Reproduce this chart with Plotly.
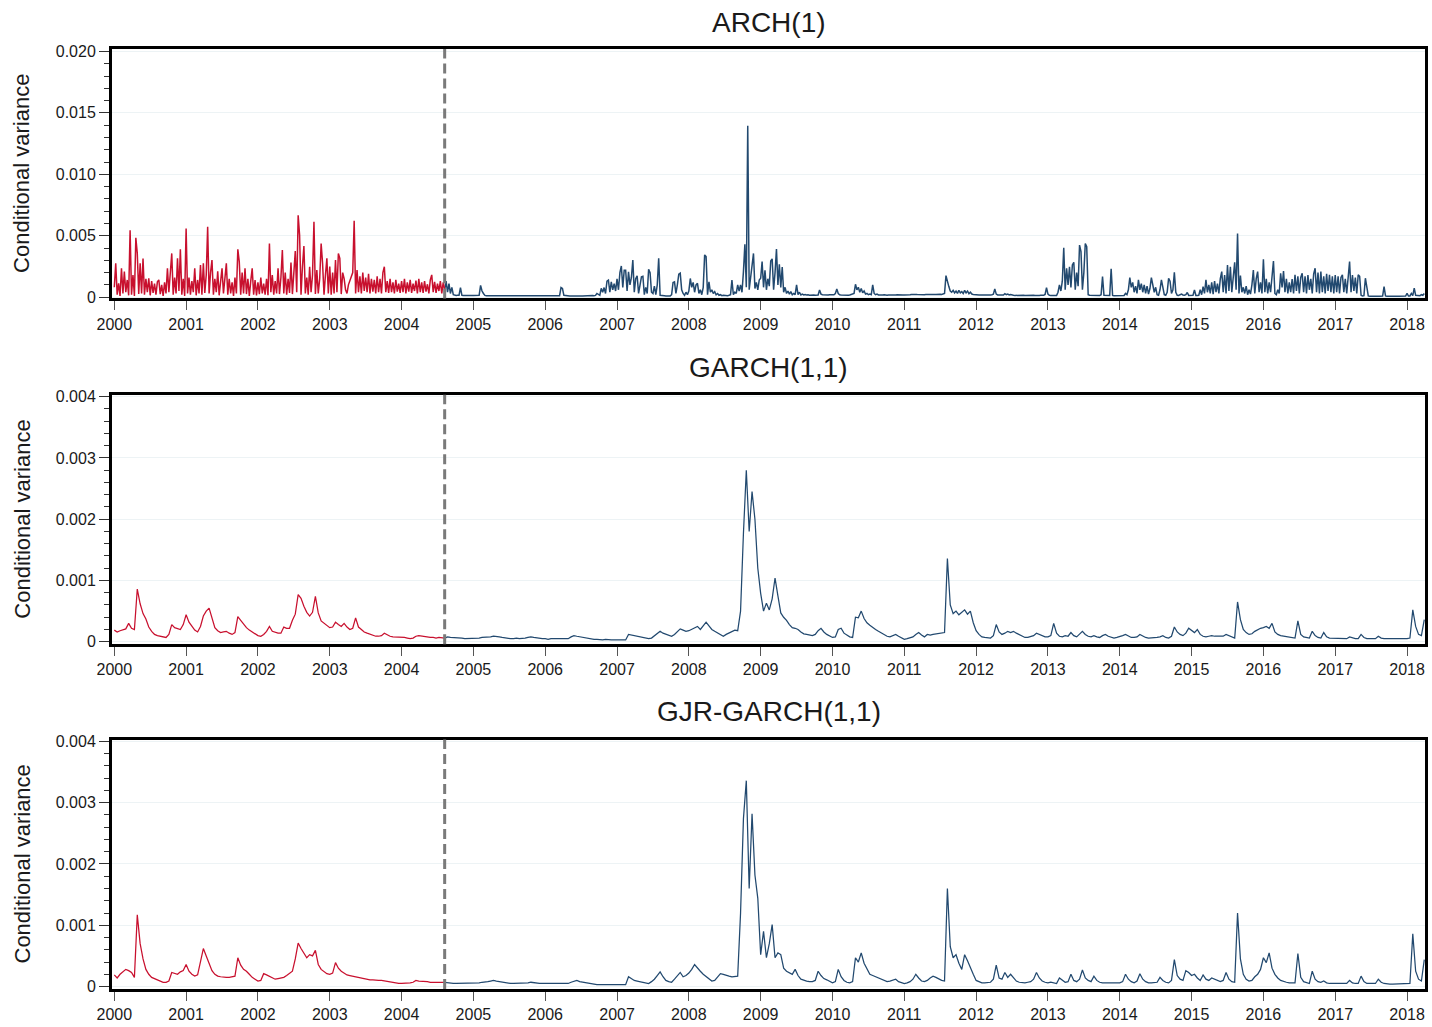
import numpy as np
import plotly.graph_objects as go

# ---------------- data (values in units of 1e-5) ----------------
UNIT = 1e-5
START_YEAR = 2000.0
SPLIT_YEAR = 2004.6
YEAR_TICKS = list(range(2000, 2019))
YEAR_LABELS = [str(y) for y in YEAR_TICKS]
TITLES = ["ARCH(1)", "GARCH(1,1)", "GJR-GARCH(1,1)"]
Y_LABEL = "Conditional variance"

# ARCH(1): one row per year, sampled every 0.02 year
ARCH_STEP = 0.02
arch_rows = [
    [80,275,20,113,10,235,30,208,40,140, 15,545,20,180,10,483,356,25,275,30, 315,20,150,40,154,15,130,35,110,20, 125,140,25,100,10,120,30,235,40,235, 356,20,160,30,316,50,389,20,150,10],
    [559,30,160,20,130,40,235,15,140,30, 262,20,275,35,180,572,30,200,302,20, 150,40,210,15,140,235,30,180,275,20, 150,30,120,10,160,30,389,289,20,200, 30,235,25,150,10,130,235,20,140,15],
    [120,25,160,30,110,20,150,15,437,40, 180,20,130,30,235,25,160,383,30,200, 20,150,35,281,25,200,375,40,667,505, 20,250,416,30,160,20,248,40,180,613, 25,221,30,150,437,275,20,180,316,30],
    [250,20,200,30,302,40,356,316,25,200, 150,60,30,100,130,160,200,621,30,221, 40,170,30,200,50,160,40,190,30,150, 45,140,30,170,40,150,30,200,248,40, 130,35,150,40,120,30,140,45,110,35],
    [130,40,150,30,120,45,140,35,110,50, 135,30,150,40,120,35,130,45,105,30, 140,181,40,125,35,110,50,130,30,120, 60,130,40,110,30,80,20,15,14,15, 16,78,15,14,15,16,15,14,15,14],
    [14,13,12,14,15,95,50,30,14,12, 12,11,12,13,12,11,10,12,11,10, 10,11,10,9,10,11,10,9,10,9, 9,10,9,8,9,10,9,8,9,10, 9,8,9,8,9,8,9,9,8,9],
    [9,8,9,8,9,10,9,8,9,10, 12,78,70,15,12,10,10,9,10,9, 10,9,10,11,10,9,10,11,12,10, 11,12,11,13,12,14,30,20,15,72, 40,78,30,131,139,40,125,60,110,50],
    [150,60,200,254,80,219,219,50,206,100, 160,302,40,150,174,30,120,166,170,20, 80,30,227,200,40,30,90,20,100,316, 15,12,10,12,10,11,12,10,20,120, 125,30,100,187,195,60,30,15,40,20],
    [50,152,80,120,40,100,112,30,60,20, 80,344,330,20,125,40,60,30,45,20, 30,15,20,12,15,12,14,12,15,20, 139,20,40,30,99,50,100,40,208,430, 80,1396,60,150,286,356,70,120,60,140],
    [154,289,80,219,60,150,90,294,312,60, 200,392,100,267,80,246,40,80,30,50, 25,45,20,30,20,100,20,40,18,25, 18,22,17,20,16,18,20,17,16,18, 17,59,25,20,18,17,19,18,20,18],
    [18,20,30,67,30,20,18,17,16,18, 17,16,18,20,25,30,105,60,80,40, 70,35,50,25,30,20,25,20,100,30, 20,25,18,17,16,18,20,17,16,18, 17,16,18,17,18,20,18,17,16,18],
    [18,20,19,22,20,21,23,20,22,21, 20,22,24,21,20,22,23,21,20,22, 24,22,21,23,22,24,22,25,30,175, 120,86,50,40,55,35,50,30,55,35, 45,30,55,35,50,28,40,25,22,20],
    [20,18,17,18,16,17,18,17,16,17, 18,20,25,67,25,18,17,16,18,17, 28,20,25,18,22,16,15,14,15,16, 14,13,15,16,14,15,13,14,16,20, 15,14,13,15,14,16,14,15,22,78],
    [25,15,14,13,15,14,13,40,100,50, 130,402,60,235,100,248,80,262,283,60, 200,90,424,370,60,200,437,410,20,15, 14,13,12,14,13,12,13,20,167,15, 13,12,14,13,230,14,12,13,12,14],
    [12,13,15,14,30,20,60,159,80,120, 40,90,30,140,60,110,40,100,30,90, 25,70,159,110,40,80,20,15,60,140, 90,20,15,40,154,130,30,60,202,40, 15,14,20,25,18,15,20,38,14,15],
    [14,15,59,14,13,15,60,20,86,30, 140,40,100,30,120,25,130,40,110,30, 150,208,40,180,30,262,50,248,40,150, 283,60,518,30,175,40,80,30,90,20, 60,25,100,221,30,150,208,40,120,30],
    [308,40,150,30,120,40,180,294,30,20, 60,30,194,80,213,40,150,30,120,40, 148,30,181,50,170,30,160,194,40,170, 30,180,60,150,30,190,235,40,200,30, 208,40,170,30,190,50,181,40,170,30],
    [180,40,170,30,160,181,40,150,30,170, 289,40,180,50,160,30,181,170,15,10, 12,154,60,10,8,9,8,7,8,9, 8,7,8,9,86,10,8,7,8,9, 8,7,8,7,8,9,8,7,8,9],
    [30,9,10,30,12,73,15,12,10,12,20,15,30],
]

# GARCH(1,1): one row per year, sampled every 0.04 year
GARCH_STEP = 0.04
garch_rows = [
    [19,16,18,20,21,30,22,20,86,62, 46,37,24,17,12,10,9,7,7,12, 28,23,21,20,28],
    [44,32,25,19,16,25,42,50,55,38, 23,18,15,16,17,14,12,15,41,35, 29,23,19,16,12],
    [10,9,12,17,25,17,15,14,14,24, 22,22,35,45,77,71,58,48,42,48, 74,47,34,30,26],
    [23,24,32,28,25,30,24,20,22,39, 24,20,16,14,12,10,9,9,10,14, 11,9,8,8,8],
    [8,7,6,5,6,9,10,9,8,8, 7,7,6,7,6,6,8,7,7,6, 6,6,5,5,6],
    [5,6,6,7,7,8,8,9,9,8, 7,6,6,5,5,6,5,5,6,7, 8,7,6,5,5],
    [5,4,5,5,4,5,5,4,5,8, 10,9,8,7,6,5,4,4,4,3, 3,4,3,3,3],
    [3,3,3,3,12,11,9,8,7,6, 5,5,6,10,14,17,14,12,10,9, 12,16,21,19,17],
    [18,20,22,25,20,26,32,26,20,17, 14,11,9,12,14,16,19,18,50,177, 280,180,245,200,120],
    [79,50,63,52,70,104,75,47,40,35, 28,23,22,20,16,13,12,11,10,12, 18,22,16,12,9],
    [7,8,20,22,14,11,8,7,40,39, 50,38,31,27,23,20,17,14,11,9, 8,10,12,9,6],
    [4,5,6,8,12,15,11,8,12,11, 12,13,14,14,15,136,60,46,50,44, 48,52,45,50,31],
    [18,12,8,7,7,6,10,28,16,12, 14,17,15,17,14,12,9,7,7,8, 10,14,12,9,8],
    [8,10,30,14,9,8,10,9,15,10, 8,12,17,12,9,8,10,8,7,10, 12,9,7,6,7],
    [8,10,12,9,7,7,8,12,9,7, 6,6,6,7,8,10,7,6,9,24, 16,12,10,14,22],
    [18,15,20,12,9,8,9,10,9,9, 8,9,12,10,7,6,65,36,20,15, 12,13,17,20,22],
    [23,25,22,30,16,12,10,9,8,7, 7,6,34,12,8,7,6,17,10,7, 6,15,8,6,6],
    [6,5,5,5,5,8,6,5,5,12, 7,5,5,5,5,9,6,5,5,5, 4,4,5,4,4],
    [5,6,52,25,12,10,36],
]

# GJR-GARCH(1,1): one row per year, sampled every 0.04 year
GJR_STEP = 0.04
gjr_rows = [
    [19,14,20,24,28,26,23,15,117,70, 45,28,20,15,13,12,9,7,7,9, 23,21,20,24,26],
    [36,25,20,17,19,42,62,50,38,26, 20,17,16,15,15,15,16,17,47,35, 28,25,20,15,12],
    [9,10,21,19,17,14,12,13,14,15, 18,21,25,45,71,62,55,47,52,50, 59,36,28,24,21],
    [20,22,39,30,25,22,19,18,17,16, 15,14,12,12,11,11,10,10,10,9, 8,8,7,6,5],
    [5,5,5,6,7,10,9,9,9,8, 7,7,6,7,7,7,6,6,5,5, 5,5,5,5,5],
    [5,5,6,7,7,8,9,10,9,8, 7,6,5,5,5,5,5,5,6,6, 7,6,5,5,5],
    [5,5,4,4,4,4,4,5,5,7, 9,10,8,7,6,5,4,4,3,3, 3,3,3,3,3],
    [3,3,3,3,16,13,10,9,8,6, 5,5,8,12,18,24,16,10,8,7, 12,18,23,16,18],
    [22,28,36,30,25,20,16,12,9,10, 15,21,20,18,17,16,17,17,120,274, 336,160,282,182,144],
    [52,90,47,70,101,47,55,52,30,25, 22,20,28,18,12,10,9,8,8,10, 25,18,13,11,8],
    [6,8,28,16,10,7,6,8,47,40, 55,38,28,20,18,16,14,11,9,8, 9,10,12,8,6],
    [5,6,8,12,20,14,9,8,10,14, 17,15,12,10,9,160,65,47,52,38, 28,52,42,30,20],
    [10,8,6,6,6,7,12,35,14,12, 23,15,20,14,9,7,6,6,7,8, 12,23,14,9,7],
    [6,7,6,5,14,10,7,8,20,10, 8,12,27,14,10,8,17,10,7,6, 6,6,6,7,6],
    [6,8,20,12,8,6,9,21,12,8, 6,6,6,7,15,10,7,6,10,44, 18,12,10,26,23],
    [18,20,14,10,19,12,10,14,12,9, 8,10,23,12,8,7,120,45,20,12, 9,10,16,20,28],
    [47,39,55,30,20,14,10,8,7,6, 6,6,54,15,8,6,5,25,12,8, 7,9,6,5,5],
    [5,5,4,4,5,10,6,5,5,17, 8,5,5,5,5,12,7,5,4,4, 4,4,4,4,4],
    [4,5,86,25,12,9,44],
]

# y-axis tick labels per panel
ARCH_YTICKS = [0, 0.005, 0.010, 0.015, 0.020]
ARCH_YLABELS = ["0", "0.005", "0.010", "0.015", "0.020"]
GARCH_YTICKS = [0, 0.001, 0.002, 0.003, 0.004]
GARCH_YLABELS = ["0", "0.001", "0.002", "0.003", "0.004"]

# ---------------- styling ----------------
RED = "#c8102e"
BLUE = "#22496f"
FONT = "Liberation Sans, Arial, Helvetica, sans-serif"
TXT = "#1a1a1a"


def build_series(rows, step):
    v = np.concatenate([np.asarray(r, dtype=float) for r in rows]) * UNIT
    t = START_YEAR + step * np.arange(len(v))
    return np.round(t, 4), v


panels = [
    (arch_rows, ARCH_STEP, [-0.0001, 0.0202], ARCH_YTICKS, ARCH_YLABELS, 0.001, 1.5),
    (garch_rows, GARCH_STEP, [-0.00004, 0.00403], GARCH_YTICKS, GARCH_YLABELS, 0.0002, 1.25),
    (gjr_rows, GJR_STEP, [-0.00004, 0.00403], GARCH_YTICKS, GARCH_YLABELS, 0.0002, 1.25),
]
domains = [[0.7347, 1.0], [0.3668, 0.6321], [0.0, 0.2653]]
title_y = [1.0285, 0.6607, 0.2949]

fig = go.Figure()
annotations = []
shapes = []
layout_axes = {}
for i, (rows, step, yr, ytv, ytt, minor_dt, lw) in enumerate(panels, start=1):
    t, v = build_series(rows, step)
    eps = step / 4
    red = t <= SPLIT_YEAR + eps
    blue = t >= SPLIT_YEAR - eps
    xa = "x" if i == 1 else f"x{i}"
    ya = "y" if i == 1 else f"y{i}"
    fig.add_trace(go.Scatter(x=t[blue], y=v[blue], mode="lines", xaxis=xa, yaxis=ya,
                             line=dict(color=BLUE, width=lw), showlegend=False, hoverinfo="skip"))
    fig.add_trace(go.Scatter(x=t[red], y=v[red], mode="lines", xaxis=xa, yaxis=ya,
                             line=dict(color=RED, width=lw), showlegend=False, hoverinfo="skip"))
    suffix = "" if i == 1 else str(i)
    layout_axes["xaxis" + suffix] = dict(
        domain=[0, 1], anchor=ya, range=[1999.968, 2018.25],
        tickmode="array", tickvals=YEAR_TICKS, ticktext=YEAR_LABELS,
        ticks="outside", ticklen=9, tickwidth=1.3, tickcolor="#555555",
        showline=True, linewidth=3, linecolor="black", mirror=True,
        showgrid=False, zeroline=False,
        tickfont=dict(family=FONT, size=16, color=TXT),
    )
    layout_axes["yaxis" + suffix] = dict(
        domain=domains[i - 1], anchor=xa, range=yr,
        tickmode="array", tickvals=ytv, ticktext=ytt,
        ticks="outside", ticklen=10, tickwidth=1.3, tickcolor="#333333",
        minor=dict(ticks="outside", ticklen=5, tickwidth=1.2, tickcolor="#333333",
                   tick0=0, dtick=minor_dt, showgrid=False),
        showline=True, linewidth=3, linecolor="black", mirror=True,
        showgrid=True, gridcolor="#edf3f5", gridwidth=1, zeroline=False,
        tickfont=dict(family=FONT, size=16, color=TXT),
    )
    shapes.append(dict(type="line", xref=xa, yref=f"{ya} domain", x0=SPLIT_YEAR, x1=SPLIT_YEAR,
                       y0=0, y1=1, line=dict(color="#7a7a7a", width=3, dash="10px,5px"), layer="above"))
    annotations.append(dict(text=TITLES[i - 1], xref="paper", yref="paper", x=0.5, y=title_y[i - 1],
                            xanchor="center", yanchor="middle", showarrow=False,
                            font=dict(family=FONT, size=28, color=TXT)))
    annotations.append(dict(text=Y_LABEL, xref="paper", yref="paper", x=-0.0684,
                            y=sum(domains[i - 1]) / 2, xanchor="center", yanchor="middle",
                            textangle=-90, showarrow=False,
                            font=dict(family=FONT, size=22, color=TXT)))

fig.update_layout(
    width=1432, height=1027,
    margin=dict(l=112, r=4, t=49, b=32),
    paper_bgcolor="white", plot_bgcolor="white",
    annotations=annotations, shapes=shapes,
    font=dict(family=FONT, color=TXT),
    **layout_axes,
)

fig.write_html(
    "out.html",
    config={"displayModeBar": False},
    post_script=("document.documentElement.style.overflow='hidden';"
                 "document.body.style.margin='0';document.body.style.overflow='hidden';"),
)
